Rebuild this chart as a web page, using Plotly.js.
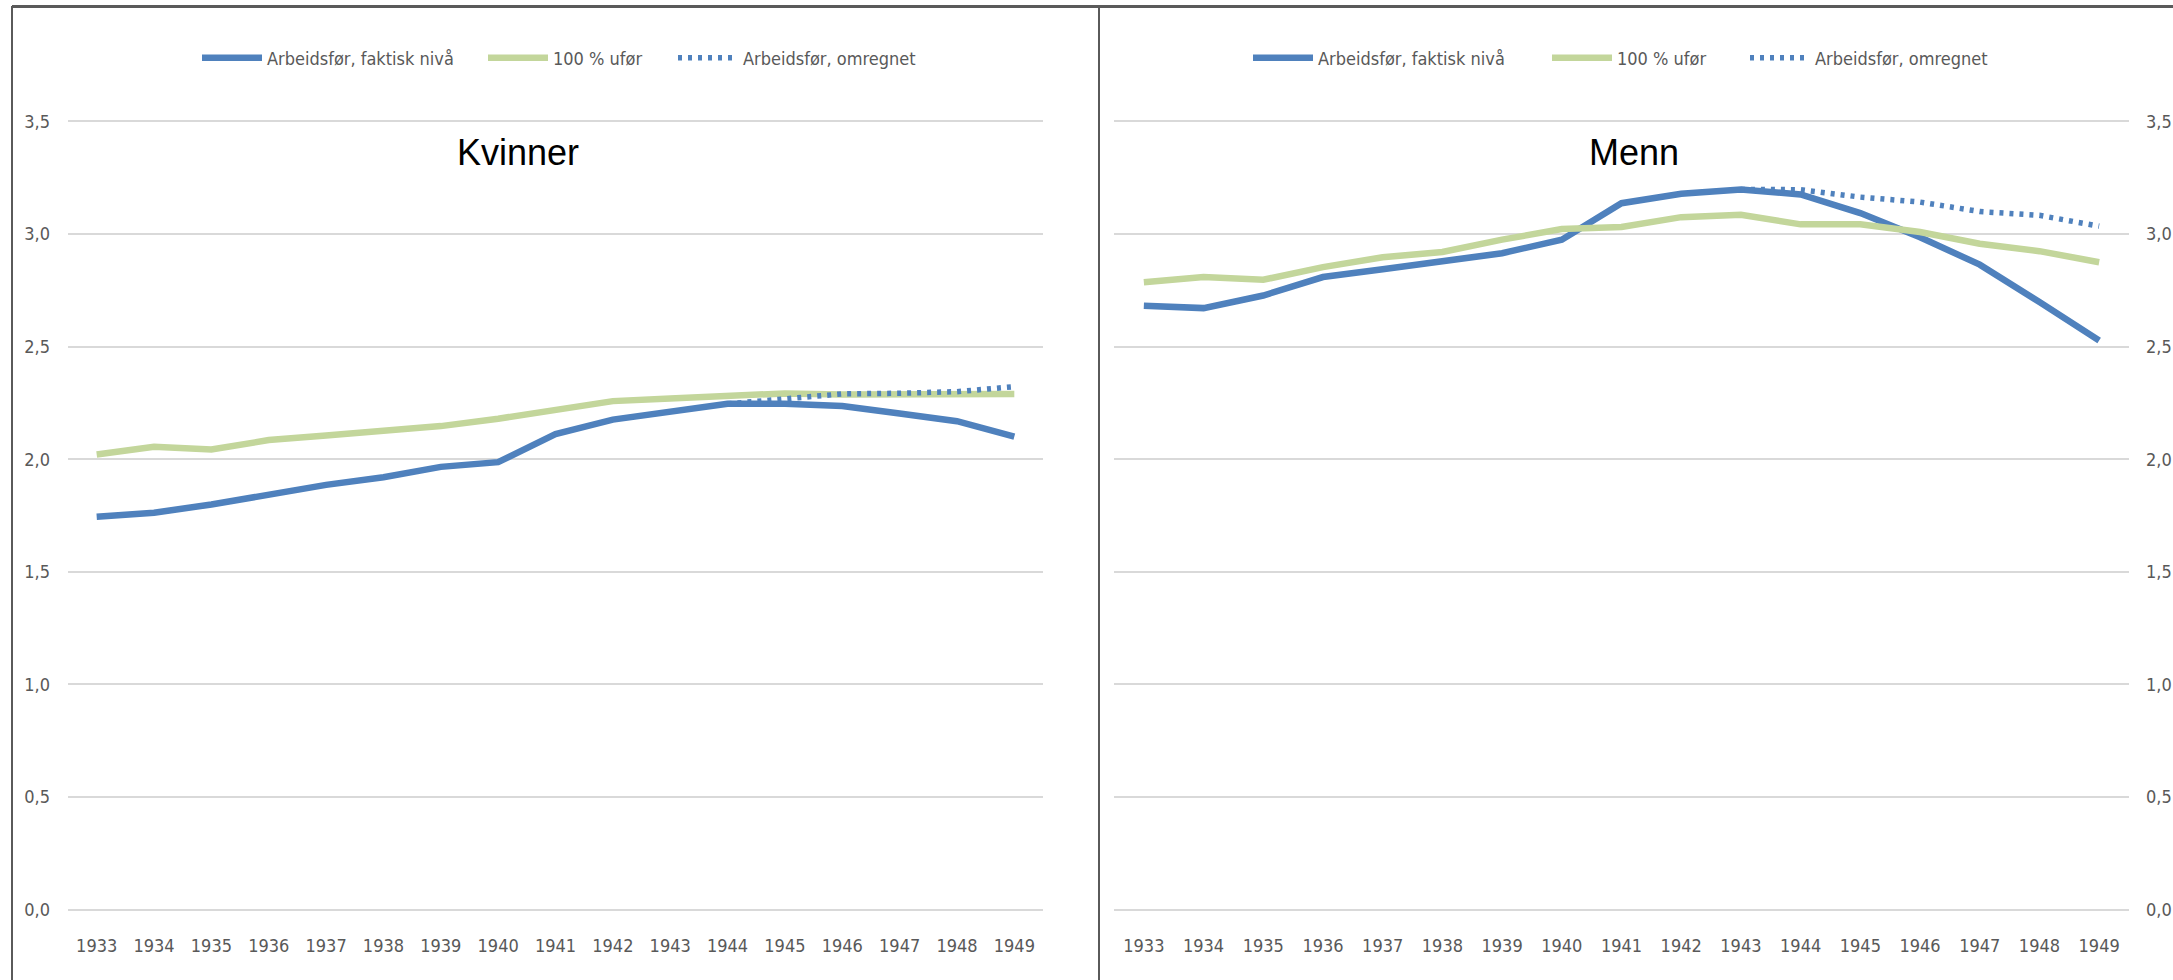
<!DOCTYPE html>
<html>
<head>
<meta charset="utf-8">
<script src="https://cdn.plot.ly/plotly-3.0.1.min.js"></script>
<style>
  html, body { margin: 0; padding: 0; background: #ffffff; }
  #chart { width: 2173px; height: 980px; }
</style>
</head>
<body>
<div id="chart"></div>
<script>
// ---- Data ----
const years = ['1933','1934','1935','1936','1937','1938','1939','1940','1941',
               '1942','1943','1944','1945','1946','1947','1948','1949'];

const seriesNames = ['Arbeidsfør, faktisk nivå', '100 % ufør', 'Arbeidsfør, omregnet'];
const panelTitles = ['Kvinner', 'Menn'];

// Kvinner
const kvFaktisk  = [1.744, 1.762, 1.799, 1.843, 1.886, 1.920, 1.966, 1.987, 2.112,
                    2.176, 2.210, 2.246, 2.246, 2.236, 2.203, 2.169, 2.100];
const kvUfor     = [2.021, 2.055, 2.043, 2.085, 2.105, 2.125, 2.147, 2.180, 2.218,
                    2.258, 2.270, 2.282, 2.292, 2.287, 2.287, 2.290, 2.290];
const kvOmregnet = [null, null, null, null, null, null, null, null, null,
                    null, null, 2.246, 2.270, 2.290, 2.293, 2.300, 2.322];

// Menn
const mFaktisk   = [2.682, 2.671, 2.727, 2.809, 2.844, 2.883, 2.915, 2.975, 3.137,
                    3.179, 3.198, 3.176, 3.093, 2.986, 2.864, 2.698, 2.527];
const mUfor      = [2.786, 2.809, 2.797, 2.853, 2.897, 2.920, 2.975, 3.022, 3.031,
                    3.075, 3.086, 3.043, 3.043, 3.009, 2.957, 2.924, 2.875];
const mOmregnet  = [null, null, null, null, null, null, null, null, null,
                    null, 3.198, 3.197, 3.164, 3.142, 3.100, 3.083, 3.035];

// ---- Styling ----
const W = 2173, H = 980;
const BLUE = '#4F81BD', GREEN = '#C3D69B', GRID = '#D9D9D9', TXT = '#595959';
const FONT = '"Liberation Sans Narrow", "Arial Narrow", "DejaVu Sans Condensed", sans-serif';

function px(x) { return x / W; }
function py(y) { return (H - y) / H; }

const yRange = [-0.05, 3.55];
const yDomain = [py(920.8), py(110.2)];

function line(name, xs, ys, color, width, dash, xa, ya, legend) {
  return { type: 'scatter', mode: 'lines', name: name, x: xs, y: ys,
           xaxis: xa, yaxis: ya, legend: legend,
           line: { color: color, width: width, dash: dash }, hoverinfo: 'x+y' };
}

const DOT = '4px,6px';
const traces = [
  line(seriesNames[0], years, kvFaktisk,  BLUE,  6.5, 'solid', 'x',  'y',  'legend'),
  line(seriesNames[1], years, kvUfor,     GREEN, 6.5, 'solid', 'x',  'y',  'legend2'),
  line(seriesNames[2], years, kvOmregnet, BLUE,  5.5, DOT,     'x',  'y',  'legend3'),
  line(seriesNames[0], years, mFaktisk,   BLUE,  6.5, 'solid', 'x2', 'y3', 'legend4'),
  line(seriesNames[1], years, mUfor,      GREEN, 6.5, 'solid', 'x2', 'y3', 'legend5'),
  line(seriesNames[2], years, mOmregnet,  BLUE,  5.5, DOT,     'x2', 'y3', 'legend6')
];

const xBase = {
  type: 'category', range: [-0.5, 16.5], showgrid: false, zeroline: false,
  showline: false, ticks: '', tickfont: { family: FONT, size: 18, color: TXT },
  ticklabelstandoff: 12, fixedrange: true
};
const yBase = {
  range: yRange, domain: yDomain, tick0: 0, dtick: 0.5, tickformat: '.1f',
  zeroline: false, showline: false, ticks: '',
  tickfont: { family: FONT, size: 18, color: TXT },
  ticklabelstandoff: 17, fixedrange: true
};

function legendAt(x) {
  return {
    orientation: 'h', xanchor: 'left', yanchor: 'middle', y: py(58), x: px(x),
    font: { family: FONT, size: 18, color: TXT }, itemwidth: 60,
    bgcolor: 'rgba(0,0,0,0)', borderwidth: 0
  };
}

const layout = {
  width: W, height: H,
  margin: { l: 0, r: 0, t: 0, b: 0 },
  paper_bgcolor: '#ffffff', plot_bgcolor: '#ffffff',
  separators: ', ',
  font: { family: FONT, color: TXT },
  xaxis: Object.assign({}, xBase, { domain: [px(68), px(1043)], anchor: 'y' }),
  yaxis: Object.assign({}, yBase, { anchor: 'x', side: 'left', showgrid: true,
                                    gridcolor: GRID, gridwidth: 2 }),
  yaxis2: Object.assign({}, yBase, { anchor: 'x', overlaying: 'y', side: 'right',
                                     showgrid: false }),
  xaxis2: Object.assign({}, xBase, { domain: [px(1114), px(2129)], anchor: 'y3' }),
  yaxis3: Object.assign({}, yBase, { anchor: 'x2', side: 'right', showgrid: true,
                                     gridcolor: GRID, gridwidth: 2, ticklabelstandoff: 16 }),
  legend:  legendAt(197),
  legend2: legendAt(483),
  legend3: legendAt(673),
  legend4: legendAt(1248),
  legend5: legendAt(1547),
  legend6: legendAt(1745),
  annotations: [
    { text: panelTitles[0], xref: 'paper', yref: 'paper', x: px(518), y: py(153),
      xanchor: 'center', yanchor: 'middle', showarrow: false,
      font: { family: '"Liberation Sans", Arial, sans-serif', size: 36, color: '#000000' } },
    { text: panelTitles[1], xref: 'paper', yref: 'paper', x: px(1634), y: py(153),
      xanchor: 'center', yanchor: 'middle', showarrow: false,
      font: { family: '"Liberation Sans", Arial, sans-serif', size: 36, color: '#000000' } }
  ],
  shapes: [
    { type: 'line', xref: 'paper', yref: 'paper', x0: px(12), x1: 1, y0: py(6.5), y1: py(6.5),
      line: { color: '#5a5a5a', width: 3 } },
    { type: 'line', xref: 'paper', yref: 'paper', x0: px(12), x1: px(12), y0: py(6), y1: 0,
      line: { color: '#5a5a5a', width: 2 } },
    { type: 'line', xref: 'paper', yref: 'paper', x0: px(1099), x1: px(1099), y0: py(6), y1: 0,
      line: { color: '#5a5a5a', width: 2 } }
  ],
  showlegend: true
};

Plotly.newPlot('chart', traces, layout, { displayModeBar: false, staticPlot: true });
</script>
</body>
</html>
